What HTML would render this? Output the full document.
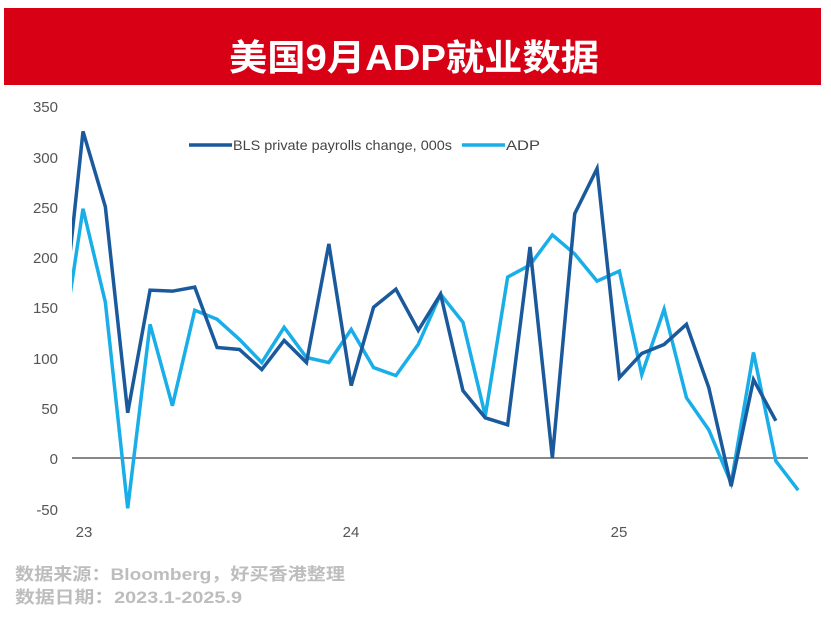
<!DOCTYPE html>
<html><head><meta charset="utf-8"><style>
body{margin:0;width:831px;height:615px;background:#fff;overflow:hidden;font-family:"Liberation Sans","Noto Sans CJK SC",sans-serif}
</style></head><body>
<svg width="831" height="615" xmlns="http://www.w3.org/2000/svg">
<rect x="4" y="8" width="817" height="77" fill="#d70015"/>
<text x="229" y="70" font-size="36" font-weight="bold" fill="#fff" textLength="370" lengthAdjust="spacingAndGlyphs" font-family="Liberation Sans, Noto Sans CJK SC, sans-serif">美国9月ADP就业数据</text>
<g font-size="15" fill="#555" text-anchor="end" font-family="Liberation Sans, sans-serif">
<text x="58" y="112">350</text><text x="58" y="163">300</text><text x="58" y="213">250</text>
<text x="58" y="263">200</text><text x="58" y="313">150</text><text x="58" y="364">100</text>
<text x="58" y="414">50</text><text x="58" y="464">0</text><text x="58" y="515">-50</text>
</g>
<g font-size="15" fill="#555" text-anchor="middle">
<text x="84" y="537">23</text><text x="351" y="537">24</text><text x="619" y="537">25</text>
</g>
<line x1="72" y1="458" x2="808" y2="458" stroke="#888" stroke-width="2"/>
<defs><clipPath id="c"><rect x="72" y="90" width="740" height="440"/></clipPath></defs>
<g clip-path="url(#c)" fill="none" stroke-width="3.5" stroke-linejoin="miter">
<g transform="translate(83,458) scale(22.35,-1.005)">
<polyline vector-effect="non-scaling-stroke" stroke="#1aaee8" points="-1,100 0,248 1,155 2,-50 3,133 4,52 5,147 6,138 7,118 8,95 9,130 10,100 11,95 12,128 13,90 14,82 15,113 16,163 17,135 18,42 19,180 20,192 21,222 22,203 23,176 24,186 25,83 26,148 27,60 28,28 29,-25 30,105 31,-3 32,-32"/>
<polyline vector-effect="non-scaling-stroke" stroke="#1a5a9c" points="-1,115 0,325 1,250 2,45 3,167 4,166 5,170 6,110 7,108 8,88 9,117 10,95 11,213 12,72 13,150 14,168 15,127 16,163 17,67 18,40 19,33 20,210 21,0 22,243 23,288 24,80 25,104 26,113 27,133 28,70 29,-28 30,78 31,37"/>
</g></g>
<line x1="189" y1="145" x2="232" y2="145" stroke="#1a5a9c" stroke-width="3.5"/>
<text x="233" y="150" font-size="14" fill="#444" textLength="219" lengthAdjust="spacingAndGlyphs">BLS private payrolls change, 000s</text>
<line x1="462" y1="145" x2="505" y2="145" stroke="#1aaee8" stroke-width="3.5"/>
<text x="506" y="150" font-size="14" fill="#444" textLength="34" lengthAdjust="spacingAndGlyphs">ADP</text>
<g font-size="17" font-weight="bold" fill="#bdbdbd">
<text x="15" y="580" textLength="330" lengthAdjust="spacingAndGlyphs">数据来源：Bloomberg，好买香港整理</text>
<text x="15" y="603" textLength="227" lengthAdjust="spacingAndGlyphs">数据日期：2023.1-2025.9</text>
</g>
</svg>
</body></html>
